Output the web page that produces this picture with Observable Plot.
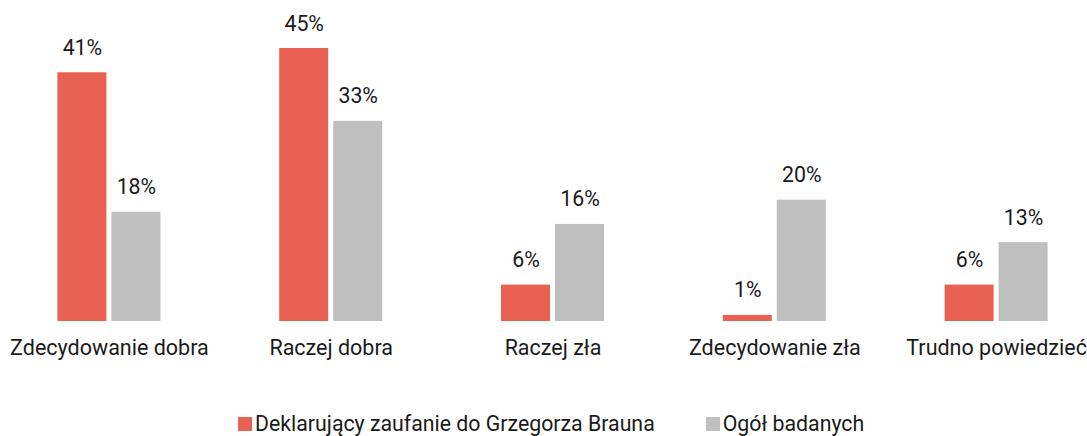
<!DOCTYPE html>
<html>
<head>
<meta charset="utf-8">
<script src="https://cdn.jsdelivr.net/npm/d3@7"></script>
<script src="https://cdn.jsdelivr.net/npm/@observablehq/plot@0.6"></script>
<style>
  html, body { margin: 0; padding: 0; background: #fff; overflow: hidden; width: 1087px; height: 436px; }
  body { font-family: Roboto, sans-serif; position: relative; }
  #chart svg { margin-left: -2px; display: block; max-width: none !important; }
  #legend { position: absolute; top: 413px; left: 238px; display: flex; align-items: center; font-size: 21.3px; line-height: 22px; color: #1a1a1a; white-space: nowrap; }
  .item { display: flex; align-items: center; }
  .sw { width: 14px; height: 14px; margin-right: 3px; display: inline-block; }
</style>
</head>
<body>
<div id="chart"></div>
<div id="legend"></div>
<script>
const categories = ["Zdecydowanie dobra", "Raczej dobra", "Raczej zła", "Zdecydowanie zła", "Trudno powiedzieć"];
const seriesNames = ["Deklarujący zaufanie do Grzegorza Brauna", "Ogół badanych"];
const braunValues = [41, 45, 6, 1, 6];
const ogolValues = [18, 33, 16, 20, 13];
const colors = ["#E86152", "#BFBFBF"];

const data = [];
categories.forEach((c, i) => {
  data.push({category: c, series: seriesNames[0], value: braunValues[i]});
  data.push({category: c, series: seriesNames[1], value: ogolValues[i]});
});

const chart = Plot.plot({
  width: 1109,
  height: 370,
  marginLeft: 0,
  marginRight: 0,
  marginTop: 48,
  marginBottom: 49,
  style: {fontFamily: "Roboto, sans-serif", color: "#1a1a1a", background: "transparent", maxWidth: "none"},
  fx: {domain: categories, padding: 0, round: false, label: null},
  x: {domain: seriesNames, paddingInner: 5 / 54, paddingOuter: 1.1, round: false, axis: null},
  y: {domain: [0, 45], axis: null},
  color: {domain: seriesNames, range: colors},
  marks: [
    Plot.barY(data, {fx: "category", x: "series", y: "value", fill: "series"}),
    Plot.text(data, {fx: "category", x: "series", y: "value", text: d => d.value + "%", lineAnchor: "bottom", dy: -18, fontSize: 21.3, fill: "#1a1a1a"}),
    Plot.axisFx({anchor: "bottom", tickSize: 0, tickPadding: 18, fontSize: 21.5, label: null, color: "#1a1a1a"})
  ]
});
document.getElementById("chart").appendChild(chart);

const legend = document.getElementById("legend");
seriesNames.forEach((s, i) => {
  const item = document.createElement("span");
  item.className = "item";
  if (i > 0) item.style.marginLeft = "51px";
  const sw = document.createElement("span");
  sw.className = "sw";
  sw.style.background = colors[i];
  item.appendChild(sw);
  const t = document.createElement("span");
  t.textContent = s;
  item.appendChild(t);
  legend.appendChild(item);
});
</script>
</body>
</html>
